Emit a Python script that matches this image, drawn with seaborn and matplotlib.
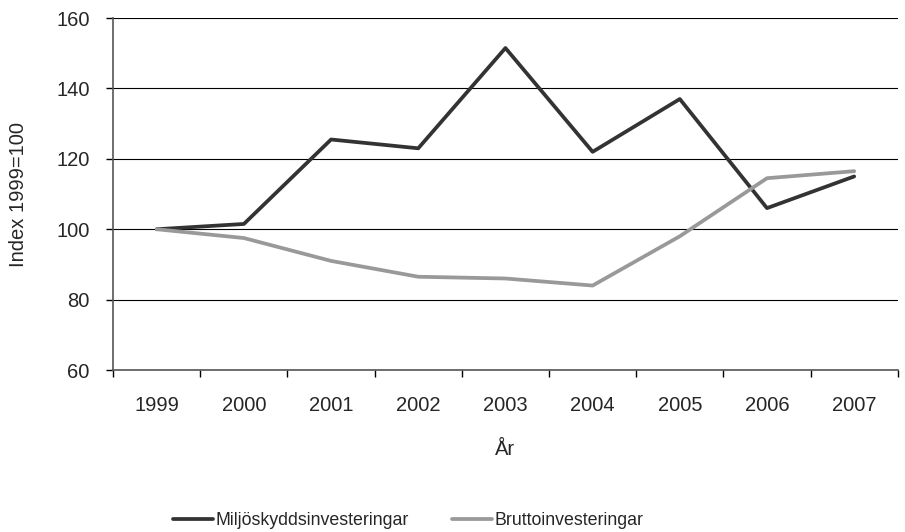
import seaborn as sns
import matplotlib.pyplot as plt
import numpy as np
import pandas as pd

years = [1999, 2000, 2001, 2002, 2003, 2004, 2005, 2006, 2007]
miljo = [100, 101.5, 125.5, 123, 151.5, 122, 137, 106, 115]
brutto = [100, 97.5, 91, 86.5, 86, 84, 98, 114.5, 116.5]
series_names = ["Miljöskyddsinvesteringar", "Bruttoinvesteringar"]

df = pd.DataFrame({
    "year": years * 2,
    "value": miljo + brutto,
    "serie": [series_names[0]] * len(years) + [series_names[1]] * len(years),
})

sns.set_style("white")
plt.rcParams['font.family'] = ['Liberation Sans', 'DejaVu Sans']

fs = 14.5
fig = plt.figure(figsize=(9.05, 5.32), dpi=100)
ax = fig.add_axes([0.125, 0.3045, 0.867, 0.6615])

sns.lineplot(data=df, x="year", y="value", hue="serie", ax=ax,
             palette=["#333333", "#999999"], linewidth=2.7, legend=False)

ax.set_xlim(1998.5, 2007.5)
ax.set_ylim(60, 160)
ax.set_yticks(np.arange(60, 161, 20))
ax.set_xticks(years)
ax.set_xticks(np.arange(1998.5, 2008, 1), minor=True)
ax.tick_params(axis='x', which='major', bottom=True, length=0, labelsize=fs, pad=19)
ax.tick_params(axis='x', which='minor', bottom=True, length=5, direction='out', color='black', width=1)
ax.tick_params(axis='y', left=True, length=5, direction='out', color='black', width=1,
               labelsize=fs, pad=12)
ax.yaxis.grid(True, color='black', linewidth=0.8)
ax.set_axisbelow(True)

for s in ['top', 'right']:
    ax.spines[s].set_visible(False)
for s in ['left', 'bottom']:
    ax.spines[s].set_color('#555555')
    ax.spines[s].set_linewidth(1.2)

ax.set_xlabel("År", fontsize=fs, labelpad=18)
ax.set_ylabel("Index 1999=100", fontsize=fs, labelpad=20)

handles = [plt.Line2D([], [], color=c, linewidth=2.7) for c in ["#333333", "#999999"]]
fig.legend(handles, series_names, loc='center', bbox_to_anchor=(0.451, 0.022),
           ncol=2, frameon=False, fontsize=12.8, handlelength=2.25, handletextpad=0.17,
           columnspacing=2.4)

fig.savefig("out.png", dpi=100)
